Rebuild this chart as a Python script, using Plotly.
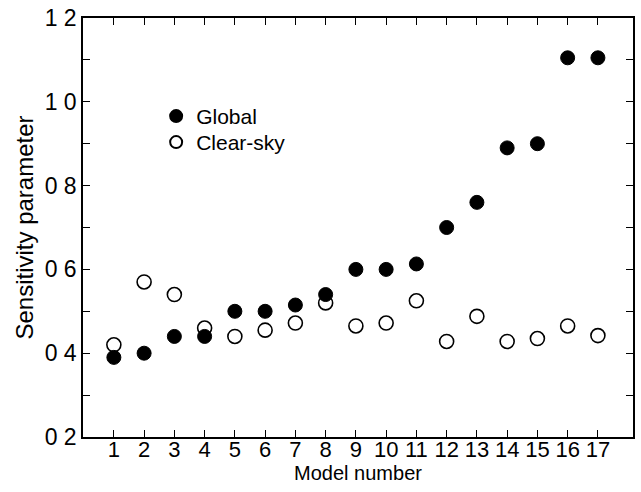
import plotly.graph_objects as go

models = list(range(1, 18))
global_vals = [0.39, 0.40, 0.44, 0.44, 0.50, 0.50, 0.515, 0.54, 0.60, 0.60,
               0.613, 0.70, 0.76, 0.89, 0.90, 1.105, 1.105]
clear_vals = [0.42, 0.57, 0.54, 0.46, 0.44, 0.455, 0.472, 0.52, 0.465, 0.472,
              0.525, 0.428, 0.488, 0.428, 0.435, 0.465, 0.442]

y_tickvals = [0.2, 0.3, 0.4, 0.5, 0.6, 0.7, 0.8, 0.9, 1.0, 1.1, 1.2]
y_ticktext = ["0 2", "", "0 4", "", "0 6", "", "0 8", "", "1 0", "", "1 2"]

FONT = "Liberation Sans, Arial, Helvetica, sans-serif"

fig = go.Figure()
fig.add_trace(go.Scatter(
    x=models, y=global_vals, mode="markers", name="Global", legend="legend",
    showlegend=True,
    marker=dict(symbol="circle", size=14, color="black",
                line=dict(color="black", width=1)),
))
fig.add_trace(go.Scatter(
    x=models, y=clear_vals, mode="markers", name="Clear-sky", legend="legend2",
    showlegend=True,
    marker=dict(symbol="circle-open", size=14, color="black",
                line=dict(color="black", width=1.6)),
))

leg_common = dict(xanchor="left", yanchor="middle", bgcolor="rgba(0,0,0,0)",
                  font=dict(size=21), itemsizing="constant", visible=True)

fig.update_layout(
    width=641, height=492,
    margin=dict(l=83, r=8, t=18, b=55),
    showlegend=True,
    paper_bgcolor="white", plot_bgcolor="white",
    font=dict(family=FONT, color="black", size=21),
    legend=dict(x=0.133, y=0.765, **leg_common),
    legend2=dict(x=0.133, y=0.703, **leg_common),
    xaxis=dict(
        range=[-0.02, 18.16], tickmode="array", tickvals=models,
        ticktext=[str(m) for m in models],
        ticks="inside", ticklen=7, tickwidth=1.2, tickcolor="black",
        showline=True, linecolor="black", linewidth=1.5, mirror="ticks",
        showgrid=False, zeroline=False, automargin=False,
        ticklabelstandoff=-8, ticklabeloverflow="allow",
        title=dict(text="Model number", font=dict(size=20), standoff=0),
        tickfont=dict(size=22),
    ),
    yaxis=dict(
        range=[0.2, 1.2], tickmode="array", tickvals=y_tickvals,
        ticktext=y_ticktext,
        ticks="inside", ticklen=7, tickwidth=1.2, tickcolor="black",
        showline=True, linecolor="black", linewidth=1.5, mirror="ticks",
        showgrid=False, zeroline=False, automargin=False,
        ticklabeloverflow="allow",
        title=dict(text="Sensitivity parameter", font=dict(size=24), standoff=4),
        tickfont=dict(size=23),
    ),
)

fig.write_html(
    "out.html",
    config={"displayModeBar": False},
    post_script="document.body.style.margin='0';document.body.style.overflow='hidden';",
)
